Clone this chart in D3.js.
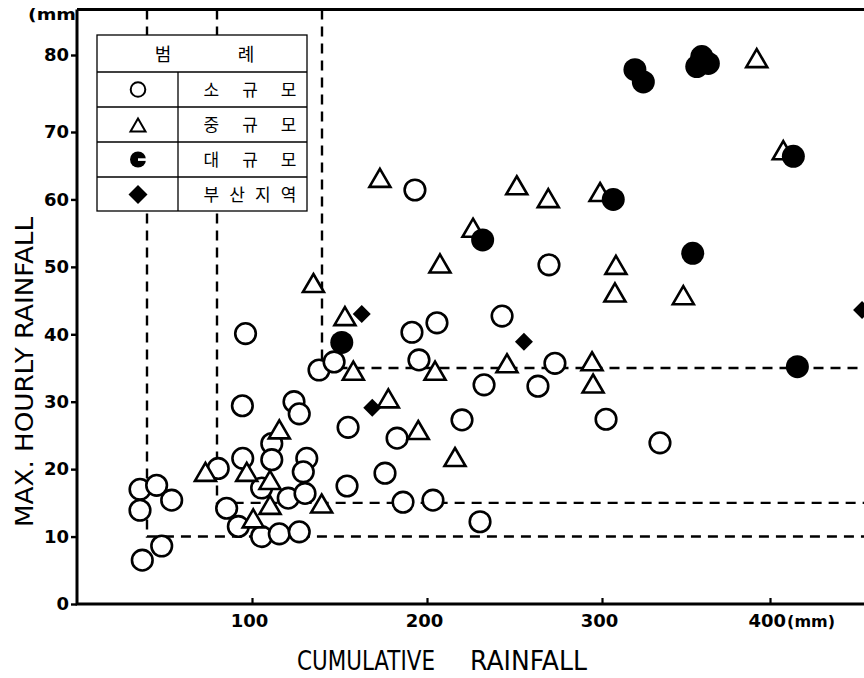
<!DOCTYPE html>
<html>
<head>
<meta charset="utf-8">
<script src="https://cdn.jsdelivr.net/npm/d3@7"></script>
<style>
  body { margin: 0; background: #fff; }
  svg { display: block; }
</style>
</head>
<body>
<svg id="chart" width="864" height="678"></svg>
<script>
// Cumulative rainfall (mm) vs. maximum hourly rainfall (mm), by storm scale
const smallScale = [
  [36.0, 17.0], [45.5, 17.6], [54.1, 15.4], [36.0, 13.9], [48.4, 8.6], [37.3, 6.5],
  [80.7, 20.1], [94.7, 21.6], [96.3, 40.1], [94.5, 29.4], [111.3, 23.8], [111.3, 21.4],
  [124.0, 30.0], [127.0, 28.2], [131.3, 21.6], [129.3, 19.6], [105.5, 17.2], [120.7, 15.7],
  [130.3, 16.4], [85.5, 14.2], [92.2, 11.5], [105.5, 10.0], [115.6, 10.4], [127.0, 10.7],
  [138.3, 34.7], [146.9, 35.9], [154.9, 26.2], [154.3, 17.5], [176.0, 19.4], [182.9, 24.6],
  [186.3, 15.1], [203.4, 15.4], [191.4, 40.3], [205.7, 41.7], [195.4, 36.2], [193.1, 61.4],
  [220.0, 27.3], [230.3, 12.2], [232.6, 32.5], [242.9, 42.7], [263.4, 32.3], [269.7, 50.3],
  [273.1, 35.7], [302.4, 27.4], [334.5, 23.9]
];
const mediumScale = [
  [73.4, 19.6], [97.0, 19.6], [115.6, 25.9], [110.3, 18.4], [110.3, 14.7], [100.7, 12.7],
  [139.8, 14.9], [135.1, 47.6], [153.1, 42.7], [157.9, 34.6], [177.9, 30.5], [195.0, 25.8],
  [204.6, 34.6], [216.0, 21.8], [173.1, 63.2], [207.4, 50.5], [226.3, 55.8], [251.3, 62.1],
  [269.3, 60.2], [245.7, 35.7], [294.3, 36.0], [294.9, 32.7], [298.9, 61.1], [308.3, 50.3],
  [307.7, 46.2], [348.4, 45.8], [392.1, 79.6], [407.9, 67.3]
];
const largeScale = [
  [151.3, 38.8], [231.8, 54.0], [306.7, 60.0], [319.6, 78.1], [324.6, 76.5], [356.4, 78.5],
  [359.4, 79.8], [363.3, 78.9], [354.0, 52.0], [413.9, 66.4], [416.3, 35.2]
];
const busanArea = [
  [162.7, 43.0], [168.7, 29.1], [255.4, 38.9], [454.8, 43.6]
];

// Threshold guides: [cumulative, hourly] corner of each dashed boundary
const thresholds = [[40, 10], [80, 15], [140, 35]];

const xTicks = [100, 200, 300, 400];
const yTicks = [0, 10, 20, 30, 40, 50, 60, 70, 80];

const legendTitle = ["범", "례"];
const legendLabels = ["소 규 모", "중 규 모", "대 규 모", "부산지역"];

const W = 864, H = 678;
const plotLeft = 77, plotBottom = 604, frameTop = 9.5;

// The printed axes are slightly uneven, so the scales follow the tick marks
const x = d3.scaleLinear().domain([0, 300, 400]).range([plotLeft, 602, 770]);
const y = d3.scaleLinear().domain([0, 70, 80]).range([plotBottom, 132, 55]);

const svg = d3.select("#chart");
const ink = "#000";
const tickFont = "'DejaVu Sans', sans-serif";

// Dashed threshold lines
svg.append("g").selectAll("path").data(thresholds).join("path")
  .attr("d", d => `M${x(d[0])},${frameTop} V${y(d[1])} H${W}`)
  .attr("fill", "none").attr("stroke", ink)
  .attr("stroke-width", 2.4).attr("stroke-dasharray", "10 7");

// Axes
const yAxis = d3.axisLeft(y).tickValues(yTicks).tickSizeInner(6).tickSizeOuter(0).tickPadding(2);
const gy = svg.append("g").attr("transform", `translate(${plotLeft},0)`).call(yAxis);
gy.select(".domain").remove();
gy.selectAll(".tick line").attr("stroke", ink).attr("stroke-width", 2.4);
gy.selectAll(".tick text").attr("font-family", tickFont).attr("font-weight", "bold")
  .attr("font-size", 18).attr("fill", ink);

const xAxis = d3.axisBottom(x).tickValues(xTicks).tickSizeInner(-6).tickSizeOuter(0).tickPadding(10)
  .tickFormat(d3.format("d"));
const gx = svg.append("g").attr("transform", `translate(0,${plotBottom})`).call(xAxis);
gx.select(".domain").remove();
gx.selectAll(".tick line").attr("stroke", ink).attr("stroke-width", 2.2);
gx.selectAll(".tick text").attr("font-family", tickFont).attr("font-weight", "bold")
  .attr("font-size", 18).attr("fill", ink).attr("dx", -3);
gx.selectAll(".tick").filter(d => d === 400).select("text")
  .attr("text-anchor", "start").attr("dx", -22)
  .append("tspan").attr("font-size", 16).attr("dx", 1).text("(mm)");

// Frame: left axis, bottom axis, top border
svg.append("path")
  .attr("d", `M${plotLeft},${frameTop} V${plotBottom} H${W} M${plotLeft},${frameTop} H${W}`)
  .attr("fill", "none").attr("stroke", ink).attr("stroke-width", 3);

// Unit label at top of y axis
svg.append("text").attr("x", plotLeft - 1).attr("y", 20).attr("text-anchor", "end")
  .attr("font-family", tickFont).attr("font-weight", "bold").attr("font-size", 15)
  .attr("textLength", 48).attr("lengthAdjust", "spacingAndGlyphs").text("(mm");

// Axis titles
svg.append("text").attr("transform", "translate(33,372) rotate(-90)")
  .attr("text-anchor", "middle").attr("font-family", tickFont).attr("font-size", 25)
  .attr("textLength", 310).attr("lengthAdjust", "spacingAndGlyphs")
  .text("MAX. HOURLY RAINFALL");
svg.append("text").attr("x", 297).attr("y", 670).attr("font-family", tickFont).attr("font-size", 26)
  .attr("textLength", 138).attr("lengthAdjust", "spacingAndGlyphs").text("CUMULATIVE");
svg.append("text").attr("x", 470).attr("y", 670).attr("font-family", tickFont).attr("font-size", 26)
  .attr("textLength", 117).attr("lengthAdjust", "spacingAndGlyphs").text("RAINFALL");

// Marker shapes
const tri = (s) => `M0,${-s * 0.86}L${s},${s * 0.86}L${-s},${s * 0.86}Z`;
const diamond = (s) => `M0,${-s}L${s},0L0,${s}L${-s},0Z`;

const marks = svg.append("g");
marks.selectAll("circle.small").data(smallScale).join("circle").attr("class", "small")
  .attr("cx", d => x(d[0])).attr("cy", d => y(d[1])).attr("r", 10.3)
  .attr("fill", "#fff").attr("stroke", ink).attr("stroke-width", 2.6);
marks.selectAll("path.medium").data(mediumScale).join("path").attr("class", "medium")
  .attr("transform", d => `translate(${x(d[0])},${y(d[1])})`)
  .attr("d", tri(10.5)).attr("fill", "#fff").attr("stroke", ink)
  .attr("stroke-width", 2.6).attr("stroke-linejoin", "miter");
marks.selectAll("circle.large").data(largeScale).join("circle").attr("class", "large")
  .attr("cx", d => x(d[0])).attr("cy", d => y(d[1])).attr("r", 11.5).attr("fill", ink);
marks.selectAll("path.busan").data(busanArea).join("path").attr("class", "busan")
  .attr("transform", d => `translate(${x(d[0])},${y(d[1])})`)
  .attr("d", diamond(9)).attr("fill", ink);

// Legend table
const lg = svg.append("g");
const lx0 = 97, lx1 = 307, ly0 = 35, ly1 = 211, colX = 178;
const rowY = [72, 107, 142, 177];
lg.append("rect").attr("x", lx0).attr("y", ly0).attr("width", lx1 - lx0).attr("height", ly1 - ly0)
  .attr("fill", "#fff").attr("stroke", ink).attr("stroke-width", 1.3);
lg.selectAll("line.row").data(rowY).join("line").attr("class", "row")
  .attr("x1", lx0).attr("x2", lx1).attr("y1", d => d).attr("y2", d => d)
  .attr("stroke", ink).attr("stroke-width", 1.3);
lg.append("line").attr("x1", colX).attr("x2", colX).attr("y1", rowY[0]).attr("y2", ly1)
  .attr("stroke", ink).attr("stroke-width", 1.3);

const krFont = "'Noto Sans CJK KR', sans-serif";
lg.selectAll("text.head").data(legendTitle).join("text").attr("class", "head")
  .attr("x", (d, i) => [163, 246][i]).attr("y", 55).attr("dy", "0.36em")
  .attr("text-anchor", "middle").attr("font-family", krFont).attr("font-size", 18).text(d => d);
lg.selectAll("text.lab").data(legendLabels).join("text").attr("class", "lab")
  .attr("x", 250).attr("y", (d, i) => rowY[i] + 17.5).attr("dy", "0.36em")
  .attr("text-anchor", "middle").attr("font-family", krFont).attr("font-size", 17)
  .attr("textLength", 93).attr("lengthAdjust", "spacing").text(d => d);

const sx = 138;
lg.append("circle").attr("cx", sx).attr("cy", rowY[0] + 17.5).attr("r", 7.3)
  .attr("fill", "none").attr("stroke", ink).attr("stroke-width", 2);
lg.append("path").attr("transform", `translate(${sx},${rowY[1] + 18})`).attr("d", tri(7.5))
  .attr("fill", "none").attr("stroke", ink).attr("stroke-width", 2);
lg.append("circle").attr("cx", sx).attr("cy", rowY[2] + 17.5).attr("r", 8).attr("fill", ink);
lg.append("rect").attr("x", sx).attr("y", rowY[2] + 16.3).attr("width", 9).attr("height", 2.6).attr("fill", "#fff");
lg.append("path").attr("transform", `translate(${sx},${rowY[3] + 17.5})`).attr("d", diamond(9.5)).attr("fill", ink);
</script>
</body>
</html>
